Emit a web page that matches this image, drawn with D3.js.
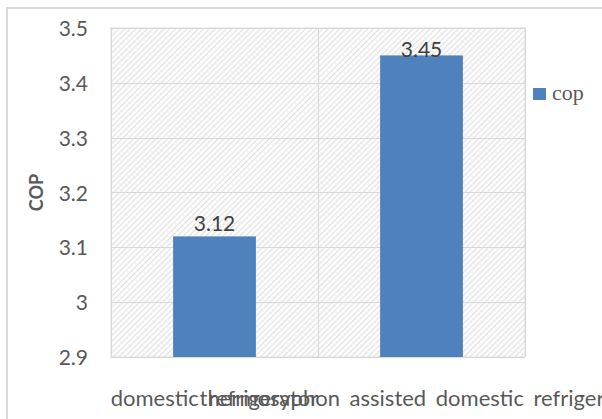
<!DOCTYPE html>
<html>
<head>
<meta charset="utf-8">
<script src="https://cdn.jsdelivr.net/npm/d3@7"></script>
<style>
  html, body { margin: 0; padding: 0; background: #fff; overflow: hidden; }
  svg { display: block; }
</style>
</head>
<body>
<svg id="chart" width="602" height="419"></svg>
<script>
const categories = ["domestic refrigerator", "thermosyphon assisted domestic refrigerator"];
const copValues = [3.12, 3.45];
const valueLabels = ["3.12", "3.45"];
const yTickValues = [2.9, 3.0, 3.1, 3.2, 3.3, 3.4, 3.5];
const yTickLabels = ["2.9", "3", "3.1", "3.2", "3.3", "3.4", "3.5"];
const seriesName = "cop";
const yTitle = "COP";

const svg = d3.select("#chart");
const plot = { left: 111, right: 525, top: 28, bottom: 357 };
const gray = "#595959";
const lineGray = "#d9d9d9";
const barColor = "#4f81bd";

// Outer chart frame
svg.append("rect")
  .attr("x", 7).attr("y", 8).attr("width", 620).attr("height", 430)
  .attr("fill", "#fff").attr("stroke", lineGray).attr("stroke-width", 2);

// hatch pattern
const defs = svg.append("defs");
const pat = defs.append("pattern")
  .attr("id", "hatch").attr("patternUnits", "userSpaceOnUse")
  .attr("width", 4).attr("height", 4)
  .attr("patternTransform", "rotate(45)");
pat.append("rect").attr("width", 4).attr("height", 4).attr("fill", "#fbfbfb");
pat.append("line").attr("x1", 0).attr("y1", 0).attr("x2", 0).attr("y2", 4)
  .attr("stroke", "#d4d4d4").attr("stroke-width", 1.3);

const x = d3.scaleBand().domain(categories).range([plot.left, plot.right]).padding(0);
const y = d3.scaleLinear().domain([2.9, 3.5]).range([plot.bottom, plot.top]);

// plot area
svg.append("rect")
  .attr("x", plot.left).attr("y", plot.top)
  .attr("width", plot.right - plot.left).attr("height", plot.bottom - plot.top)
  .attr("fill", "url(#hatch)").attr("stroke", lineGray).attr("stroke-width", 1);

// horizontal gridlines
svg.append("g").selectAll("line").data(yTickValues).join("line")
  .attr("x1", plot.left).attr("x2", plot.right)
  .attr("y1", d => Math.round(y(d)) + 0.5).attr("y2", d => Math.round(y(d)) + 0.5)
  .attr("stroke", lineGray).attr("stroke-width", 1);

// vertical gridlines at category boundaries
const bounds = categories.map(c => x(c)).concat([x(categories[categories.length - 1]) + x.bandwidth()]);
svg.append("g").selectAll("line").data(bounds).join("line")
  .attr("x1", d => Math.round(d) + 0.5).attr("x2", d => Math.round(d) + 0.5)
  .attr("y1", plot.top).attr("y2", plot.bottom)
  .attr("stroke", lineGray).attr("stroke-width", 1);

// y axis
const yAxis = d3.axisLeft(y).tickValues(yTickValues)
  .tickFormat((d, i) => yTickLabels[i]).tickSize(0).tickPadding(23);
const yg = svg.append("g").attr("transform", `translate(${plot.left},0)`).call(yAxis);
yg.select(".domain").remove();
yg.selectAll("text").attr("font-family", "Lato, sans-serif").attr("font-size", 21)
  .attr("fill", gray).attr("dy", "0.36em");

// x axis labels
const xAxis = d3.axisBottom(x).tickSize(0).tickPadding(33);
const xg = svg.append("g").attr("transform", `translate(0,${plot.bottom})`).call(xAxis);
xg.select(".domain").remove();
xg.selectAll("text").attr("font-family", "Lato, sans-serif").attr("font-size", 22)
  .attr("word-spacing", 4)
  .attr("fill", gray);

// bars
const barW = x.bandwidth() * 0.4;
svg.append("g").selectAll("rect").data(copValues).join("rect")
  .attr("x", (d, i) => x(categories[i]) + (x.bandwidth() - barW) / 2)
  .attr("y", d => y(d))
  .attr("width", barW)
  .attr("height", d => y(2.9) - y(d))
  .attr("fill", barColor);

// value labels
svg.append("g").selectAll("text").data(copValues).join("text")
  .attr("x", (d, i) => x(categories[i]) + x.bandwidth() / 2)
  .attr("y", d => Math.max(y(d) - 5, plot.top + 29))
  .attr("text-anchor", "middle")
  .attr("font-family", "Lato, sans-serif").attr("font-size", 21)
  .attr("fill", "#404040")
  .text((d, i) => valueLabels[i]);

// y title
svg.append("text")
  .attr("transform", `translate(43,${(plot.top + plot.bottom) / 2}) rotate(-90)`)
  .attr("text-anchor", "middle")
  .attr("font-family", "Lato, sans-serif").attr("font-size", 18).attr("font-weight", "bold")
  .attr("fill", gray)
  .text(yTitle);

// legend
svg.append("rect").attr("x", 533).attr("y", 88).attr("width", 13).attr("height", 12).attr("fill", barColor);
svg.append("text").attr("x", 552).attr("y", 100)
  .attr("font-family", "'Liberation Serif', serif").attr("font-size", 22)
  .attr("fill", gray).text(seriesName);
</script>
</body>
</html>
